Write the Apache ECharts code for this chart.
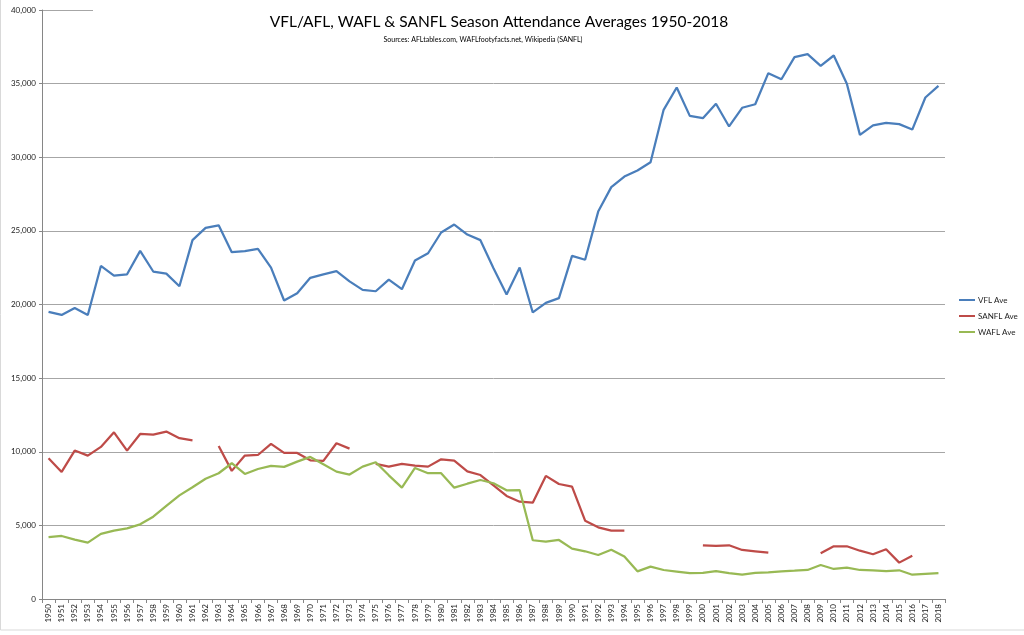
<!DOCTYPE html>
<html>
<head>
<meta charset="utf-8">
<script src="https://cdn.jsdelivr.net/npm/echarts@6/dist/echarts.min.js"></script>
<style>
html,body{margin:0;padding:0;background:#fff;}
#chart{width:1024px;height:635px;}
</style>
</head>
<body>
<div id="chart"></div>
<script>
const years = [];
for (let y = 1950; y <= 2018; y++) years.push(String(y));

const vflAve = [19500,19290,19770,19290,22620,21960,22050,23640,22240,22100,
  21240,24370,25200,25380,23550,23620,23780,22510,20270,20770,
  21810,22050,22270,21570,20990,20900,21690,21040,22990,23480,
  24890,25430,24750,24370,22460,20680,22510,19460,20110,20430,
  23300,23040,26310,27970,28690,29100,29660,33220,34740,32810,
  32650,33630,32090,33360,33600,35710,35300,36800,37000,36210,
  36910,34990,31520,32160,32340,32250,31880,34060,34850];

const sanflAve = [9560,8630,10080,9740,10330,11320,10080,11210,11160,11370,
  10920,10780,null,10390,8700,9740,9780,10530,9920,9920,
  9420,9380,10580,10210,null,9170,8990,9170,9060,8990,
  9490,9400,8670,8420,7720,7000,6610,6540,8360,7810,
  7630,5320,4870,4640,4640,null,null,null,null,null,
  3650,3600,3650,3330,3240,3150,null,null,null,3100,
  3580,3580,3280,3040,3380,2470,2940,null,null];

const waflAve = [4210,4280,4030,3830,4420,4640,4800,5070,5590,6320,
  7040,7590,8170,8540,9220,8490,8830,9040,8970,9330,
  9650,9150,8650,8450,8990,9290,8400,7560,8900,8540,
  8540,7560,7830,8080,7860,7380,7400,3990,3900,4010,
  3420,3240,2990,3350,2880,1880,2200,1970,1860,1750,
  1770,1900,1750,1650,1770,1810,1880,1920,1970,2310,
  2040,2130,1970,1950,1900,1950,1650,1700,1750];

const seriesNames = ['VFL Ave', 'SANFL Ave', 'WAFL Ave'];
const seriesColors = ['#4A7EBB', '#BE4B48', '#98B954'];

const chart = echarts.init(document.getElementById('chart'), null, {renderer: 'canvas'});
const fontFam = 'Lato, "Open Sans", sans-serif';

chart.setOption({
  backgroundColor: '#ffffff',
  animation: false,
  title: [{
    text: 'VFL/AFL, WAFL & SANFL Season Attendance Averages 1950-2018',
    left: 494,
    textAlign: 'center',
    top: 9,
    textStyle: {fontFamily: fontFam, fontSize: 15.5, fontWeight: 'normal', color: '#000'}
  }, {
    text: 'Sources: AFLtables.com, WAFLfootyfacts.net, Wikipedia (SANFL)',
    left: 478,
    textAlign: 'center',
    top: 31,
    textStyle: {fontFamily: fontFam, fontSize: 7, fontWeight: 'normal', color: '#000'}
  }],
  graphic: [
    {type: 'rect', z: 0, silent: true, shape: {x: 0.5, y: -2, width: 1030, height: 632},
     style: {fill: null, stroke: '#d9d9d9', lineWidth: 1}},
    {type: 'rect', z: 1, silent: true, shape: {x: 93, y: 5, width: 853, height: 12},
     style: {fill: '#ffffff'}}
  ],
  legend: {
    orient: 'vertical',
    left: 954,
    top: 291,
    itemWidth: 16,
    itemHeight: 2,
    itemGap: 8,
    icon: 'rect',
    textStyle: {fontFamily: fontFam, fontSize: 8, color: '#222', padding: [0,0,0,-2]},
    data: seriesNames
  },
  grid: {left: 42, right: 79, top: 10, bottom: 36, containLabel: false},
  xAxis: {
    type: 'category',
    data: years,
    boundaryGap: true,
    axisLine: {lineStyle: {color: '#868686', width: 1}},
    axisTick: {show: true, alignWithLabel: false, length: 4, lineStyle: {color: '#868686'}},
    axisLabel: {rotate: 90, fontSize: 8, fontFamily: fontFam, color: '#222', margin: 5, interval: 0}
  },
  yAxis: {
    type: 'value',
    min: 0,
    max: 40000,
    interval: 5000,
    axisLine: {show: true, lineStyle: {color: '#868686', width: 1}},
    axisTick: {show: true, length: 3, lineStyle: {color: '#868686'}},
    splitLine: {show: true, lineStyle: {color: '#a6a6a6', width: 1}},
    axisLabel: {
      fontSize: 8, fontFamily: fontFam, color: '#222', margin: 6,
      formatter: function (v) { return v.toLocaleString('en-US'); }
    }
  },
  series: [vflAve, sanflAve, waflAve].map(function (d, i) {
    return {
      name: seriesNames[i],
      type: 'line',
      data: d,
      showSymbol: false,
      symbol: 'none',
      connectNulls: false,
      color: seriesColors[i],
      lineStyle: {width: 2.25, color: seriesColors[i]}
    };
  })
});
</script>
</body>
</html>
